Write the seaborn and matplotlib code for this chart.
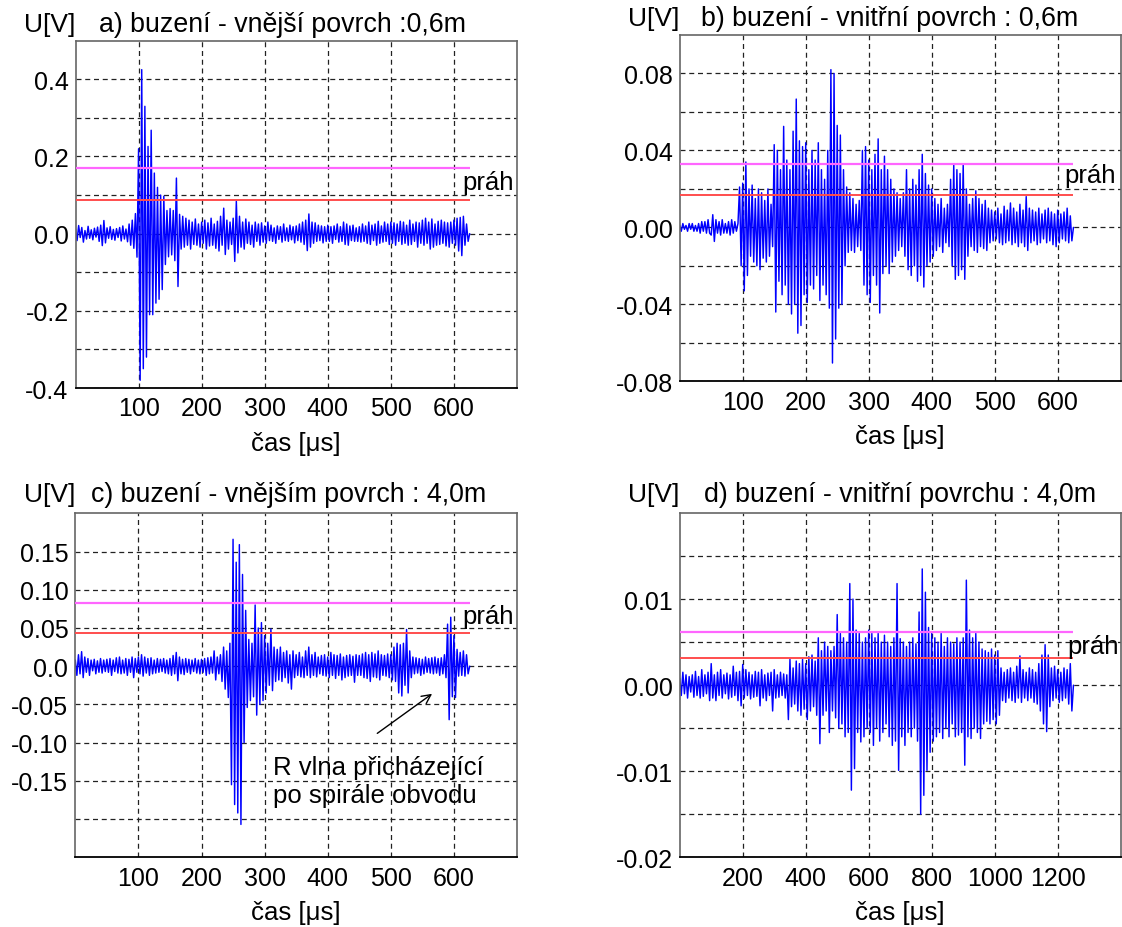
import numpy as np
import matplotlib
matplotlib.use("Agg")
import matplotlib.pyplot as plt
import seaborn as sns

# Sampled waveforms (values read off the oscillograms), U in volts
# panels a-c: one value every 2.5 us, panel d: one value every 5 us
sig_a = [
    0.012, -0.018, 0.021, -0.010, 0.016, -0.022, 0.008, -0.014, 0.019, -0.012, 0.010, -0.016, 0.014, -0.009, 0.017, -0.020, 0.022, -0.031, 0.034, -0.024,
    0.015, -0.012, 0.018, -0.015, 0.011, -0.017, 0.013, -0.010, 0.016, -0.019, 0.020, -0.014, 0.012, -0.021, 0.025, -0.030, 0.035, -0.038, 0.052, -0.061,
    0.22, -0.38, 0.425, -0.35, 0.33, -0.32, 0.226, -0.21, 0.268, -0.21, 0.157, -0.18, 0.12, -0.17, 0.10, -0.145, 0.097, -0.08, 0.06, -0.06,
    0.065, -0.055, 0.06, -0.07, 0.144, -0.137, 0.05, -0.04, 0.045, -0.035, 0.04, -0.03, 0.035, -0.04, 0.03, -0.028, 0.038, -0.03, 0.025, -0.035,
    0.03, -0.025, 0.035, -0.04, 0.028, -0.032, 0.04, -0.03, 0.025, -0.038, 0.032, -0.045, 0.045, -0.03, 0.066, -0.054, 0.035, -0.04, 0.03, -0.028,
    0.04, -0.072, 0.084, -0.05, 0.045, -0.035, 0.03, -0.04, 0.038, -0.025, 0.03, -0.028, 0.022, -0.035, 0.03, -0.02, 0.025, -0.03, 0.028, -0.022,
    0.02, -0.025, 0.03, -0.018, 0.022, -0.02, 0.015, -0.025, 0.02, -0.015, 0.018, -0.022, 0.025, -0.018, 0.015, -0.02, 0.022, -0.016, 0.018, -0.024,
    0.02, -0.018, 0.025, -0.022, 0.03, -0.028, 0.035, -0.044, 0.051, -0.035, 0.03, -0.025, 0.028, -0.02, 0.022, -0.018, 0.02, -0.024, 0.018, -0.02,
    0.022, -0.02, 0.018, -0.025, 0.02, -0.015, 0.025, -0.022, 0.018, -0.02, 0.03, -0.028, 0.025, -0.03, 0.02, -0.018, 0.022, -0.02, 0.015, -0.02,
    0.018, -0.022, 0.025, -0.02, 0.02, -0.025, 0.03, -0.028, 0.022, -0.018, 0.025, -0.03, 0.032, -0.025, 0.02, -0.022, 0.03, -0.02, 0.025, -0.028,
    0.03, -0.025, 0.028, -0.03, 0.025, -0.02, 0.032, -0.028, 0.03, -0.025, 0.022, -0.03, 0.035, -0.028, 0.025, -0.02, 0.03, -0.035, 0.028, -0.025,
    0.035, -0.03, 0.04, -0.025, 0.03, -0.04, 0.038, -0.035, 0.025, -0.03, 0.032, -0.028, 0.035, -0.025, 0.03, -0.032, 0.028, -0.035, 0.03, -0.025,
    0.035, -0.03, 0.04, -0.045, 0.042, -0.057, 0.045, -0.03, 0.025, -0.02, 0.0,
]
sig_b = [
    0.001, -0.002, 0.002, -0.001, 0.001, -0.002, 0.002, -0.001, 0.002, -0.002, 0.001, -0.002, 0.002, -0.003, 0.003, -0.002, 0.003, -0.003, 0.004, -0.003,
    -0.004, 0.0066, -0.0073, 0.004, -0.003, 0.003, -0.004, 0.004, -0.003, 0.002, -0.003, 0.003, -0.004, 0.004, -0.003, 0.003, -0.002, 0.002, 0.021, -0.02,
    0.023, -0.033, 0.034, -0.025, 0.02, -0.015, 0.022, -0.018, 0.015, -0.02, 0.02, -0.022, 0.018, -0.016, 0.014, -0.018, 0.02, -0.015, 0.012, -0.01,
    0.043, -0.044, 0.04, -0.028, 0.03, -0.035, 0.0525, -0.03, 0.035, -0.04, 0.03, -0.045, 0.05, -0.04, 0.0667, -0.055, 0.045, -0.051, 0.042, -0.035,
    0.044, -0.039, 0.03, -0.03, 0.04, -0.032, 0.035, -0.025, 0.044, -0.038, 0.03, -0.03, 0.025, -0.035, 0.04, -0.042, 0.082, -0.0705, 0.08, -0.058,
    0.053, -0.042, 0.048, -0.04, 0.03, -0.02, 0.021, -0.013, 0.018, -0.012, 0.015, -0.013, 0.012, -0.01, 0.014, -0.012, 0.04, -0.03, 0.042, -0.035,
    0.035, -0.039, 0.03, -0.025, 0.038, -0.03, 0.046, -0.0445, 0.03, -0.024, 0.037, -0.02, 0.03, -0.024, 0.025, -0.018, 0.02, -0.015, 0.018, -0.012,
    0.015, -0.01, 0.018, -0.015, 0.03, -0.022, 0.02, -0.025, 0.025, -0.02, 0.022, -0.028, 0.03, -0.025, 0.038, -0.031, 0.028, -0.02, 0.022, -0.018,
    0.02, -0.015, 0.015, -0.012, 0.012, -0.01, 0.015, -0.013, 0.01, -0.008, 0.012, -0.01, 0.025, -0.02, 0.033, -0.027, 0.03, -0.025, 0.028, -0.022,
    0.033, -0.027, 0.02, -0.015, 0.012, -0.01, 0.015, -0.012, 0.019, -0.013, 0.015, -0.01, 0.012, -0.011, 0.014, -0.012, 0.01, -0.008, 0.009, -0.007,
    0.008, -0.006, 0.01, -0.008, 0.007, -0.009, 0.011, -0.008, 0.009, -0.007, 0.0127, -0.009, 0.01, -0.008, 0.008, -0.01, 0.012, -0.008, 0.009, -0.01,
    0.016, -0.012, 0.01, -0.008, 0.009, -0.007, 0.008, -0.009, 0.01, -0.008, 0.007, -0.006, 0.009, -0.008, 0.01, -0.007, 0.008, -0.009, 0.007, -0.01,
    0.009, -0.008, 0.007, -0.006, 0.008, -0.007, 0.01, -0.008, 0.006, -0.007, 0.0,
]
sig_c = [
    0.008, -0.012, 0.015, -0.01, 0.019, -0.015, 0.012, -0.008, 0.01, -0.012, 0.008, -0.006, 0.009, -0.01, 0.007, -0.008, 0.01, -0.009, 0.008, -0.007,
    0.009, -0.008, 0.01, -0.012, 0.008, -0.007, 0.011, -0.009, 0.012, -0.01, 0.008, -0.009, 0.01, -0.012, 0.009, -0.008, 0.012, -0.015, 0.01, -0.008,
    0.012, -0.01, 0.015, -0.013, 0.012, -0.009, 0.01, -0.012, 0.011, -0.01, 0.008, -0.009, 0.01, -0.008, 0.009, -0.007, 0.01, -0.009, 0.008, -0.01,
    0.01, -0.012, 0.014, -0.01, 0.018, -0.019, 0.012, -0.01, 0.009, -0.011, 0.01, -0.008, 0.009, -0.01, 0.008, -0.007, 0.01, -0.009, 0.008, -0.01,
    0.009, -0.008, 0.01, -0.012, 0.011, -0.01, 0.012, -0.009, 0.02, -0.018, 0.012, -0.01, 0.015, -0.02, 0.025, -0.03, 0.02, -0.041, 0.03, -0.155,
    0.166, -0.181, 0.136, -0.192, 0.159, -0.207, 0.12, -0.10, 0.073, -0.054, 0.035, -0.045, 0.03, -0.04, 0.08, -0.064, 0.05, -0.05, 0.057, -0.045,
    0.04, -0.035, 0.03, -0.025, 0.0486, -0.032, 0.025, -0.02, 0.022, -0.018, 0.025, -0.02, 0.018, -0.015, 0.02, -0.022, 0.015, -0.03, 0.02, -0.015,
    0.015, -0.012, 0.018, -0.014, 0.012, -0.015, 0.02, -0.012, 0.025, -0.015, 0.015, -0.012, 0.018, -0.014, 0.012, -0.01, 0.014, -0.012, 0.015, -0.013,
    0.012, -0.015, 0.018, -0.012, 0.015, -0.016, 0.014, -0.012, 0.016, -0.018, 0.012, -0.015, 0.014, -0.013, 0.015, -0.012, 0.013, -0.021, 0.015, -0.012,
    0.014, -0.012, 0.016, -0.015, 0.018, -0.016, 0.015, -0.02, 0.018, -0.014, 0.016, -0.015, 0.02, -0.018, 0.015, -0.012, 0.014, -0.013, 0.016, -0.015,
    0.015, -0.018, 0.025, -0.02, 0.03, -0.035, 0.028, -0.039, 0.03, -0.025, 0.048, -0.035, 0.02, -0.015, 0.012, -0.01, 0.011, -0.009, 0.01, -0.012,
    0.009, -0.01, 0.012, -0.008, 0.01, -0.009, 0.011, -0.01, 0.012, -0.009, 0.01, -0.012, 0.011, -0.01, 0.015, -0.015, 0.055, -0.07, 0.064, -0.04,
    0.04, -0.041, 0.022, -0.013, 0.018, -0.012, 0.02, -0.013, 0.015, -0.01, 0.0,
]
sig_d = [
    0.0008, -0.0012, 0.0015, -0.001, 0.0012, -0.0015, 0.001, -0.0008, 0.0012, -0.0014, 0.0016, -0.0012, 0.001, -0.0015, 0.0018, -0.0013, 0.0012, -0.001, 0.0015, -0.0018,
    0.0025, -0.0015, 0.0012, -0.0018, 0.0015, -0.0012, 0.0018, -0.0015, 0.0012, -0.001, 0.0014, -0.0016, 0.0012, -0.0014, 0.0022, -0.0012, 0.0015, -0.0018, 0.0016, -0.0024,
    0.0024, -0.0015, 0.0018, -0.0012, 0.0015, -0.0016, 0.0012, -0.0014, 0.0016, -0.0013, 0.0015, -0.0024, 0.0018, -0.0015, 0.0012, -0.0018, 0.0014, -0.0012, 0.0015, -0.003,
    0.0018, -0.0015, 0.0012, -0.0014, 0.0015, -0.0012, 0.0013, -0.0015, 0.0012, -0.004, 0.003, -0.0025, 0.002, -0.0022, 0.0028, -0.003, 0.0025, -0.0035, 0.003, -0.0028,
    0.0025, -0.004, 0.0033, -0.003, 0.0035, -0.0025, 0.0028, -0.0035, 0.0055, -0.0068, 0.004, -0.0035, 0.005, -0.003, 0.0045, -0.0055, 0.004, -0.003, 0.0045, -0.0038,
    0.0082, -0.005, 0.006, -0.0045, 0.0055, -0.006, 0.005, -0.0055, 0.0118, -0.0122, 0.01, -0.0097, 0.0064, -0.0055, 0.006, -0.0066, 0.005, -0.006, 0.0055, -0.005,
    0.0064, -0.0055, 0.006, -0.007, 0.0055, -0.005, 0.006, -0.0065, 0.005, -0.0055, 0.0058, -0.0045, 0.005, -0.006, 0.0045, -0.007, 0.0055, -0.0065, 0.0118, -0.0099,
    0.0054, -0.006, 0.005, -0.007, 0.0045, -0.0055, 0.005, -0.006, 0.0055, -0.005, 0.0048, -0.0065, 0.0085, -0.015, 0.0135, -0.0128, 0.0108, -0.0099, 0.0067, -0.0078,
    0.006, -0.0065, 0.0055, -0.006, 0.005, -0.0055, 0.006, -0.0062, 0.0045, -0.005, 0.0055, -0.006, 0.005, -0.0045, 0.0048, -0.006, 0.0055, -0.0058, 0.005, -0.0055,
    0.0055, -0.0093, 0.0122, -0.006, 0.0064, -0.0062, 0.0055, -0.005, 0.006, -0.0055, 0.005, -0.0062, 0.0042, -0.0045, 0.004, -0.0042, 0.0038, -0.0045, 0.0042, -0.004,
    0.0035, -0.0045, 0.004, -0.0035, 0.002, -0.0018, 0.0015, -0.002, 0.0018, -0.0015, 0.002, -0.0018, 0.0015, -0.002, 0.0022, -0.0015, 0.0034, -0.002, 0.0018, -0.0015,
    0.0015, -0.0018, 0.002, -0.0015, 0.0018, -0.002, 0.0015, -0.0022, 0.0025, -0.003, 0.0035, -0.0045, 0.0047, -0.0054, 0.0035, -0.0025, 0.002, -0.0018, 0.0022, -0.0015,
    0.0018, -0.002, 0.0015, -0.0018, 0.002, -0.0015, 0.0018, -0.0022, 0.0025, -0.003, 0.0,
]
dt = [2.5, 2.5, 2.5, 5.0]

# threshold levels (upper = magenta, lower = red)
thr_hi = [0.171, 0.0331, 0.0822, 0.0062]
thr_lo = [0.087, 0.0166, 0.0429, 0.0031]

titles = ["a) buzení - vnější povrch :0,6m",
          "b) buzení - vnitřní povrch : 0,6m",
          "c) buzení - vnějším povrch : 4,0m",
          "d) buzení - vnitřní povrchu : 4,0m"]

ylims = [(-0.4, 0.5), (-0.08, 0.1), (-0.25, 0.2), (-0.02, 0.02)]
xlims = [(0, 700), (0, 700), (0, 700), (0, 1400)]
yticks = [
    [-0.4, -0.3, -0.2, -0.1, 0.0, 0.1, 0.2, 0.3, 0.4],
    [-0.08, -0.06, -0.04, -0.02, 0.0, 0.02, 0.04, 0.06, 0.08],
    [-0.2, -0.15, -0.1, -0.05, 0.0, 0.05, 0.1, 0.15],
    [-0.02, -0.015, -0.01, -0.005, 0.0, 0.005, 0.01, 0.015],
]
ytick_labels = [
    ["-0.4", "", "-0.2", "", "0.0", "", "0.2", "", "0.4"],
    ["-0.08", "", "-0.04", "", "0.00", "", "0.04", "", "0.08"],
    ["", "-0.15", "-0.10", "-0.05", "0.0", "0.05", "0.10", "0.15"],
    ["-0.02", "", "-0.01", "", "0.00", "", "0.01", ""],
]
xticks = [
    [100, 200, 300, 400, 500, 600],
    [100, 200, 300, 400, 500, 600],
    [100, 200, 300, 400, 500, 600],
    [200, 400, 600, 800, 1000, 1200],
]
prah_pos = [(614, 0.134), (610, 0.0272), (614, 0.066), (1232, 0.0046)]
title_dx = [23.5, 21.3, 15.4, 24.0]      # px from left spine
title_dy = [16.7, 17.0, 19.3, 19.0]      # px above top spine

W, H = 1122, 928
boxes = [  # left, right, top, bottom in px
    (75.5, 517.0, 41.7, 389.0),
    (679.7, 1120.7, 36.0, 382.3),
    (75.3, 517.0, 514.3, 858.3),
    (679.7, 1120.7, 514.0, 858.3),
]

sns.set_theme(style="white")
plt.rcParams['font.family'] = ['Liberation Sans', 'DejaVu Sans']
plt.rcParams['font.size'] = 18
plt.rcParams['text.color'] = 'black'
plt.rcParams['axes.labelcolor'] = 'black'

fig = plt.figure(figsize=(W / 100, H / 100), dpi=100)

signals = [sig_a, sig_b, sig_c, sig_d]
for i, sig in enumerate(signals):
    l, r, t, b = boxes[i]
    ax = fig.add_axes([l / W, 1 - b / H, (r - l) / W, (b - t) / H])
    wpx, hpx = r - l, b - t
    tt = np.arange(len(sig)) * dt[i]

    sns.lineplot(x=tt, y=sig, ax=ax, color="#0000ff", lw=1.05, estimator=None)
    ax.hlines(thr_hi[i], 0, tt[-1], color="#ff66ff", lw=1.6, zorder=3)
    ax.hlines(thr_lo[i], 0, tt[-1], color="#ff4d4d", lw=1.4, zorder=3)

    ax.set_xlim(*xlims[i])
    ax.set_ylim(*ylims[i])
    ax.set_xticks(xticks[i])
    ax.set_xticklabels([str(v) for v in xticks[i]])
    ax.set_yticks(yticks[i])
    ax.set_yticklabels(ytick_labels[i])
    ax.tick_params(axis='both', length=0, labelsize=18, colors='black')
    ax.tick_params(axis='x', pad=6)
    ax.tick_params(axis='y', pad=5)
    ax.grid(True, ls=(0, (4, 3)), color="#222222", lw=0.9)
    ax.set_axisbelow(True)

    for s in ['left', 'top', 'right']:
        ax.spines[s].set_color('#666666')
        ax.spines[s].set_linewidth(1.2)
    ax.spines['bottom'].set_color('black')
    ax.spines['bottom'].set_linewidth(1.3)

    ax.set_xlabel("čas [μs]", fontsize=18.5, va='center', color='black')
    ax.xaxis.set_label_coords(0.5, -54.5 / hpx)
    ax.set_ylabel("")

    ty = 1 + title_dy[i] / hpx
    ax.text(0.0, ty, "U[V]", transform=ax.transAxes, ha='right', va='center', fontsize=19)
    ax.text(title_dx[i] / wpx, ty, titles[i], transform=ax.transAxes,
            ha='left', va='center', fontsize=19.3)

    px, py = prah_pos[i]
    ax.text(px, py, "práh", ha='left', va='center', fontsize=18.5)

    if i == 2:
        ax.text(314, -0.15, "R vlna přicházející\npo spirále obvodu",
                ha='left', va='center', fontsize=18.5, linespacing=1.2)
        ax.annotate("", xy=(569, -0.034), xytext=(475, -0.090),
                    arrowprops=dict(arrowstyle='->', color='black', lw=1.0,
                                    mutation_scale=16))

fig.savefig("out.png", dpi=100)
